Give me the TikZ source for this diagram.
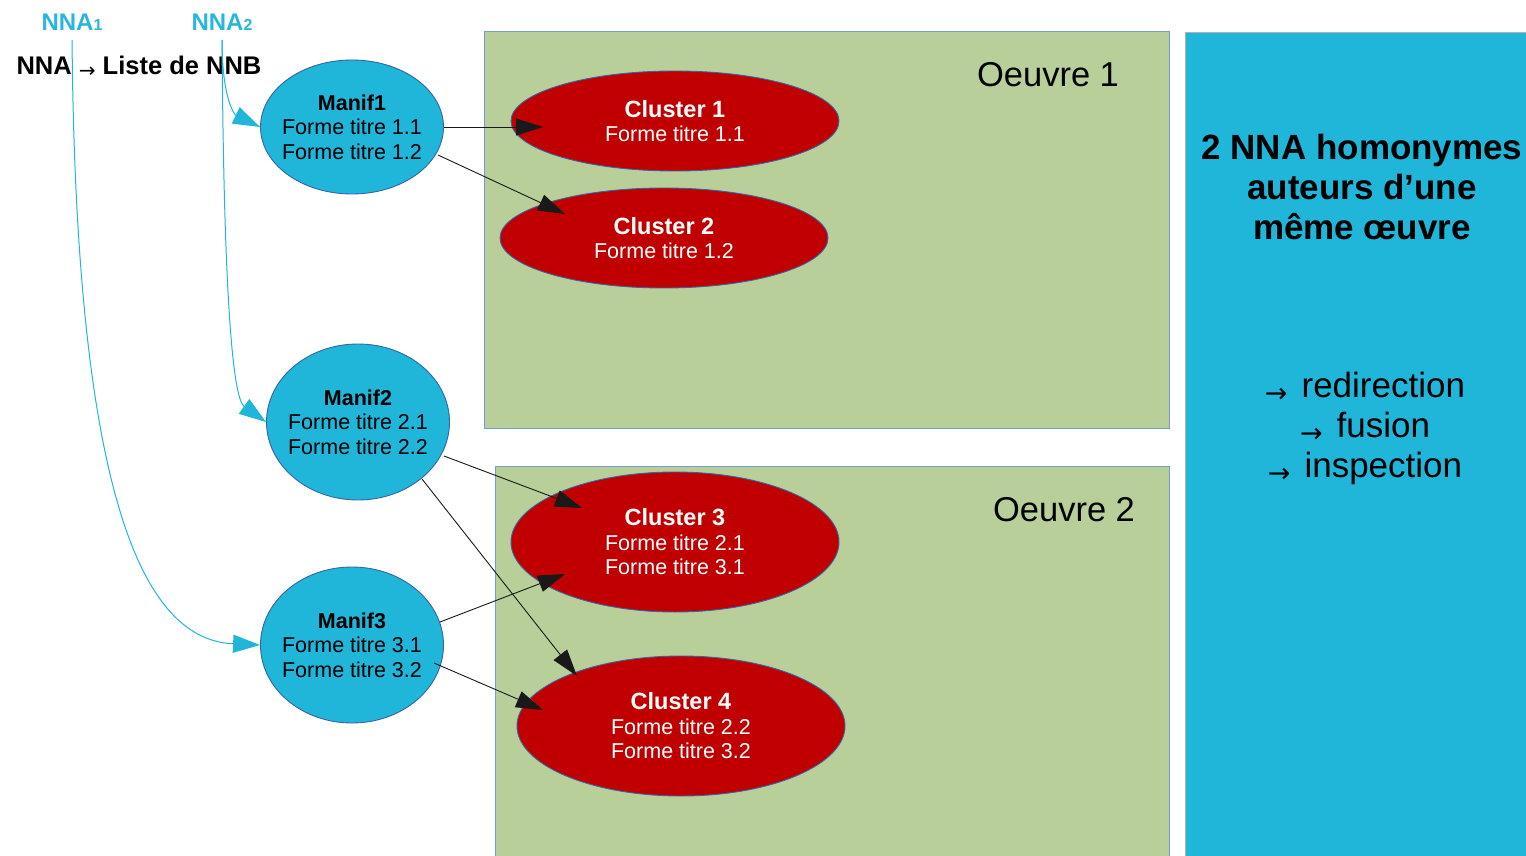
\documentclass[tikz,border=0pt]{standalone}
\usepackage{fontspec}
\setmainfont{Liberation Sans}
\newfontfamily\arrowfont{DejaVu Sans}
\usetikzlibrary{shapes.geometric,arrows.meta,calc}

\definecolor{manifblue}{RGB}{31,182,217}
\definecolor{clusterred}{RGB}{192,0,0}
\definecolor{oeuvregreen}{RGB}{184,207,153}
\definecolor{edgeblue}{RGB}{52,101,164}
\definecolor{boxedge}{RGB}{114,159,207}
\definecolor{nnacyan}{RGB}{41,182,222}

\begin{document}
\begin{tikzpicture}[
        x=1pt, y=-1pt,
        manif/.style={ellipse, draw=edgeblue, line width=0.9pt, fill=manifblue, minimum width=183pt, minimum height=156pt,
            inner xsep=-6pt, inner ysep=0pt, align=center, font=\fontsize{21.5}{24.5}\selectfont},
        cluster/.style={ellipse, draw=edgeblue, line width=0.9pt, fill=clusterred, text=white, minimum width=328pt,
            minimum height=100pt, inner sep=0pt, align=center, font=\fontsize{21.5}{24.5}\selectfont},
        oeuvre/.style={rectangle, draw=boxedge, fill=oeuvregreen, line width=1pt, inner sep=0pt},
        link/.style={draw=black!90, line width=0.9pt, -{Triangle[length=27pt,width=17pt]}},
        nnalink/.style={draw=manifblue, line width=1pt, -{Triangle[length=27pt,width=18pt]}},
        ]
        \newcommand{\fl}{\raisebox{-5pt}{\arrowfont\fontsize{27}{27}\selectfont\mdseries →}\hspace{0.4em}}
        \newcommand{\sfl}{\raisebox{-3pt}{\arrowfont\fontsize{20}{20}\selectfont\mdseries →}\ }
        \newcommand{\clt}[1]{{\bfseries\fontsize{23.5}{26}\selectfont #1}}
        \useasboundingbox (0,0) rectangle (1526,856);

        % boxes
        \node [oeuvre, minimum width=685pt, minimum height=396pt] (oeuvre1) at (826.5,230) {};
        \node [oeuvre, minimum width=674pt, minimum height=434pt] (oeuvre2) at (832,683) {};
        \node [rectangle, draw=black!30, fill=manifblue, minimum width=375pt, minimum height=868pt] (panel) at (1372.5,466) {};
        \node [font=\fontsize{34.5}{34.5}\selectfont] (o1label) at (1048,75) {Oeuvre 1};
        \node [font=\fontsize{34.5}{34.5}\selectfont] (o2label) at (1064,510) {Oeuvre 2};

        % panel text
        \node [align=center, font=\bfseries\fontsize{35}{40}\selectfont] (title) at (1362,187)
            {2 NNA homonymes\\auteurs d’une\\même œuvre};
        \node [align=center, font=\fontsize{35}{40}\selectfont] (actions) at (1365,428)
            {\fl redirection\\\fl fusion\\\fl inspection};

        % top labels
        \node [text=nnacyan, font=\bfseries\fontsize{24}{24}\selectfont] (nna1) at (72,22) {NNA{\fontsize{16}{16}\selectfont 1}};
        \node [text=nnacyan, font=\bfseries\fontsize{24}{24}\selectfont] (nna2) at (222,22) {NNA{\fontsize{16}{16}\selectfont 2}};
        \node [font=\bfseries\fontsize{25.5}{25.5}\selectfont] (liste) at (139,67) {NNA \sfl Liste de NNB};

        % manifestations
        \node [manif, minimum height=134pt] (m1) at (352,127) {\textbf{Manif1}\\Forme titre 1.1\\Forme titre 1.2};
        \node [manif] (m2) at (358,422) {\textbf{Manif2}\\Forme titre 2.1\\Forme titre 2.2};
        \node [manif] (m3) at (352,645) {\textbf{Manif3}\\Forme titre 3.1\\Forme titre 3.2};

        % clusters
        \node [cluster] (c1) at (675,121) {\clt{Cluster 1}\\Forme titre 1.1};
        \node [cluster] (c2) at (664,238) {\clt{Cluster 2}\\Forme titre 1.2};
        \node [cluster, minimum height=140pt] (c3) at (675,542) {\clt{Cluster 3}\\Forme titre 2.1\\Forme titre 3.1};
        \node [cluster, minimum height=140pt] (c4) at (681,726) {\clt{Cluster 4}\\Forme titre 2.2\\Forme titre 3.2};

        % manif -> cluster
        \draw [link] (m1.east) -- ($(c1)+(-132,6)$);
        \draw [link] ($(m1)+(86,28)$) -- ($(c2)+(-99,-24)$);
        \draw [link] ($(m2)+(86,34)$) -- ($(c3)+(-93,-34)$);
        \draw [link] ($(m2)+(64,57)$) -- ($(c4)+(-104,-50)$);
        \draw [link] ($(m3)+(88,-23)$) -- ($(c3)+(-110,32)$);
        \draw [link] ($(m3)+(82,18)$) -- ($(c4)+(-138,-16)$);

        % NNA -> manif
        \draw [nnalink, shorten <=6pt] (nna1.south) .. controls (76,520) and (150,640) .. (m3.west);
        \draw [nnalink, shorten <=6pt] (nna2.south) .. controls (222,100) and (235,115) .. (m1.west);
        \draw [nnalink, shorten <=6pt] (nna2.south) .. controls (224,330) and (235,400) .. (m2.west);
\end{tikzpicture}
\end{document}
